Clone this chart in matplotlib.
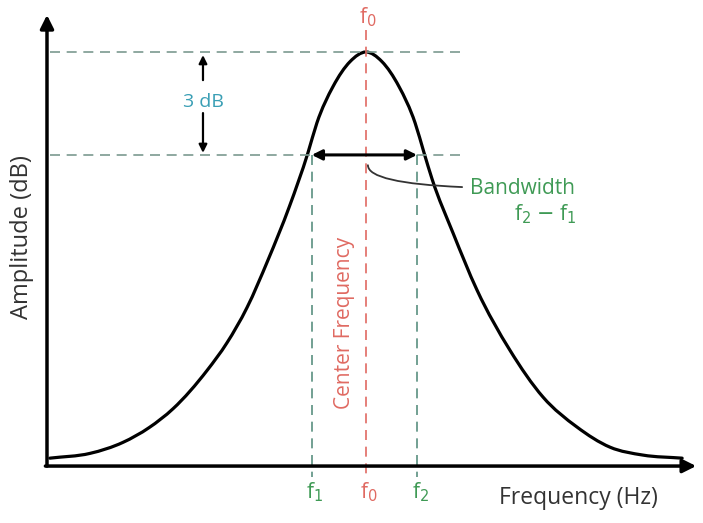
import matplotlib.pyplot as plt
from matplotlib.path import Path
from matplotlib.patches import PathPatch

plt.rcParams['font.family'] = ['Open Sans', 'DejaVu Sans']

# normalised frequency (f/f0) and amplitude (dB rel. peak)
freq = [0.009, 0.135, 0.238, 0.320, 0.395, 0.502, 0.564, 0.627, 0.693, 0.760,
        0.818, 0.846, 0.897, 0.950, 1.000, 1.050, 1.103, 1.154, 1.182, 1.207,
        1.273, 1.348, 1.451, 1.555, 1.661, 1.765, 1.868, 1.991]
amp = [-11.84, -11.70, -11.38, -10.95, -10.40, -9.28, -8.48, -7.45, -6.06, -4.50,
       -2.94, -2.07, -1.00, -0.28, 0.0, -0.28, -1.00, -2.07, -2.94, -3.70,
       -5.28, -6.94, -8.69, -10.06, -10.93, -11.52, -11.75, -11.84]

f1, f0, f2 = 0.830, 1.0, 1.160
peak_db, cut_db = 0.0, -3.0
base_db = -12.07

red = '#e06a62'
green = '#3f9a55'
teal = '#3a9fb5'
grey = '#7c9a90'

fig = plt.figure(figsize=(7.03, 5.23), dpi=100)
ax = fig.add_axes([0, 0, 1, 1])
ax.set_xlim(-0.1473, 2.0564)
ax.set_ylim(-13.73, 1.516)
ax.axis('off')

# axes with arrows
ax.annotate('', xy=(0, 1.08), xytext=(0, base_db),
            arrowprops=dict(arrowstyle='-|>', lw=2.5, color='k', mutation_scale=20,
                            shrinkA=0, shrinkB=0))
ax.annotate('', xy=(2.035, base_db), xytext=(-0.005, base_db),
            arrowprops=dict(arrowstyle='-|>', lw=2.5, color='k', mutation_scale=20,
                            shrinkA=0, shrinkB=0))

# reference lines
dash = (0, (6, 4))
ax.plot([0.01, 1.295], [peak_db, peak_db], color=grey, lw=1.2, ls=dash)
ax.plot([0.01, 1.295], [cut_db, cut_db], color=grey, lw=1.2, ls=dash)
ax.plot([f0, f0], [0.64, -12.4], color=red, lw=1.2, ls=dash)
for f in (f1, f2):
    ax.plot([f, f], [cut_db, -12.4], color='#5a9080', lw=1.2, ls=dash)

# response curve: bezier segments between the read points (hermite-style tangents)
n = len(freq)
slopes = []
for i in range(n):
    if i == 0:
        m = (amp[1] - amp[0]) / (freq[1] - freq[0])
    elif i == n - 1:
        m = (amp[-1] - amp[-2]) / (freq[-1] - freq[-2])
    else:
        h0 = freq[i] - freq[i - 1]
        h1 = freq[i + 1] - freq[i]
        d0 = (amp[i] - amp[i - 1]) / h0
        d1 = (amp[i + 1] - amp[i]) / h1
        m = (d0 * h1 + d1 * h0) / (h0 + h1)
    slopes.append(m)

verts = [(freq[0], amp[0])]
codes = [Path.MOVETO]
for i in range(n - 1):
    h = freq[i + 1] - freq[i]
    verts += [(freq[i] + h / 3, amp[i] + slopes[i] * h / 3),
              (freq[i + 1] - h / 3, amp[i + 1] - slopes[i + 1] * h / 3),
              (freq[i + 1], amp[i + 1])]
    codes += [Path.CURVE4] * 3
ax.add_patch(PathPatch(Path(verts, codes), fill=False, color='k', lw=2.3,
                       capstyle='round'))

# bandwidth arrow
ax.annotate('', xy=(f2, cut_db), xytext=(f1, cut_db),
            arrowprops=dict(arrowstyle='<|-|>', lw=2.2, color='k', mutation_scale=15,
                            shrinkA=0, shrinkB=0))

# 3 dB marker
ax.annotate('', xy=(0.489, -0.09), xytext=(0.489, -0.82),
            arrowprops=dict(arrowstyle='-|>', lw=1.6, color='k', mutation_scale=12,
                            shrinkA=0, shrinkB=0))
ax.annotate('', xy=(0.489, -2.94), xytext=(0.489, -1.78),
            arrowprops=dict(arrowstyle='-|>', lw=1.6, color='k', mutation_scale=12,
                            shrinkA=0, shrinkB=0))
ax.text(0.489, -1.46, '3 dB', color=teal, fontsize=14, ha='center', va='center')

# bandwidth callout
ax.annotate('Bandwidth', xy=(f0 + 0.006, -3.3), xytext=(1.492, -3.97),
            color=green, fontsize=15, ha='center', va='center',
            arrowprops=dict(arrowstyle='-', lw=1.3, color='#333333',
                            connectionstyle='angle3,angleA=0,angleB=90',
                            shrinkA=4, shrinkB=0))
ax.text(1.561, -4.72, r'f$_2$ $-$ f$_1$', color=green, fontsize=15,
        ha='center', va='center')

ax.text(0.934, -7.9, 'Center Frequency', color=red, fontsize=15, rotation=90,
        ha='center', va='center')

# labels
ax.text(f0 + 0.005, 1.02, r'f$_0$', color=red, fontsize=15, ha='center', va='center')
ax.text(f1 + 0.01, -12.83, r'f$_1$', color=green, fontsize=15, ha='center', va='center')
ax.text(f0 + 0.01, -12.83, r'f$_0$', color=red, fontsize=15, ha='center', va='center')
ax.text(f2 + 0.01, -12.83, r'f$_2$', color=green, fontsize=15, ha='center', va='center')
ax.text(1.665, -13.0, 'Frequency (Hz)', color='#333333', fontsize=16.5,
        ha='center', va='center')
ax.text(-0.078, -5.4, 'Amplitude (dB)', color='#333333', fontsize=17, rotation=90,
        ha='center', va='center')

fig.savefig('out.png', dpi=100)
